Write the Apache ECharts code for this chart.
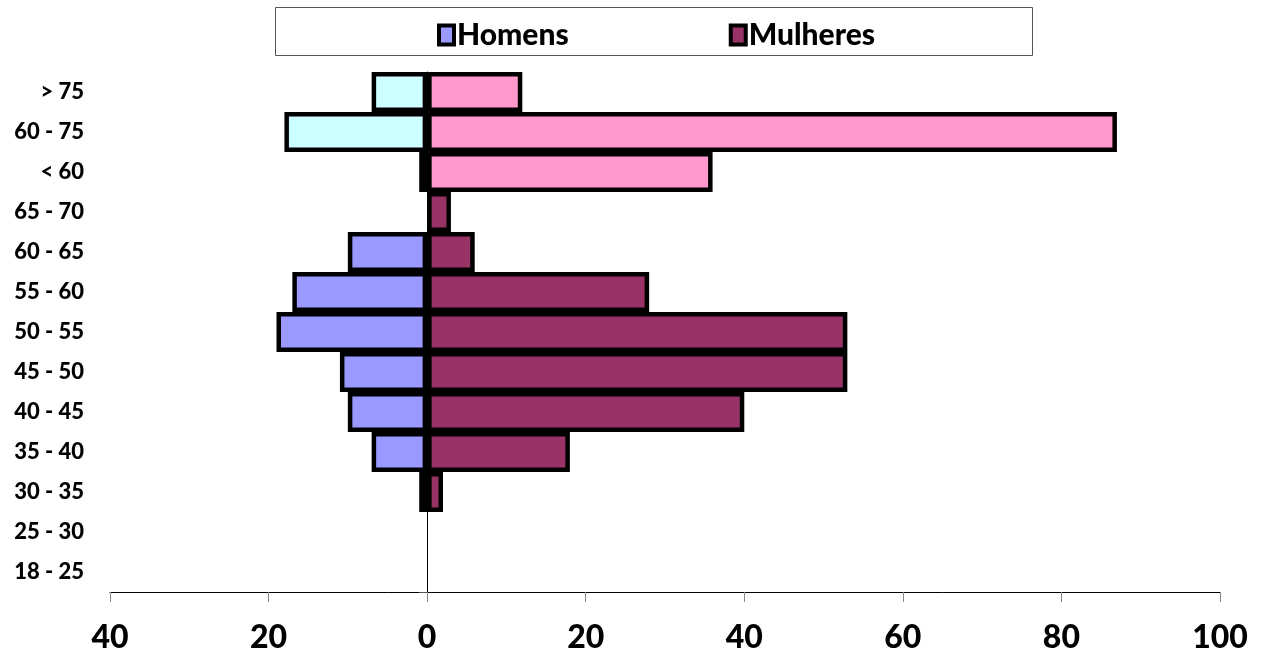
<!DOCTYPE html>
<html><head><meta charset="utf-8">
<script src="https://cdn.jsdelivr.net/npm/echarts@6/dist/echarts.min.js"></script>
<style>html,body{margin:0;padding:0;background:#fff}#c{width:1264px;height:654px}</style>
</head><body><div id="c"></div>
<script>
const categories = ['18 - 25','25 - 30','30 - 35','35 - 40','40 - 45','45 - 50','50 - 55','55 - 60','60 - 65','65 - 70','< 60','60 - 75','> 75'];
const homens   = [null, null, 1, 7, 10, 11, 19, 17, 10, null, 1, 18, 7];
const mulheres = [null, null, 2, 18, 40, 53, 53, 28, 6, 3, 36, 87, 12];
const highlightCats = ['< 60','60 - 75','> 75'];
const xTicks = [-40, -20, 0, 20, 40, 60, 80, 100];

const FONT = 'Lato';
const cH = '#9999FF', cM = '#993366', cH2 = '#CCFFFF', cM2 = '#FF99CC';

function mk(vals, sign, alt) {
  return vals.map((v, i) => {
    if (v === null) return '-';
    const val = sign * v;
    if (highlightCats.includes(categories[i])) return {value: val, itemStyle: {color: alt}};
    return val;
  });
}

const chart = echarts.init(document.getElementById('c'));
chart.setOption({
  animation: false,
  textStyle: {fontFamily: FONT},
  grid: {left: 110, right: 44, top: 72, bottom: 62, containLabel: false},
  graphic: [{type: 'rect', shape: {x: 275.5, y: 7.5, width: 757, height: 48}, style: {fill: '#fff', stroke: '#555', lineWidth: 1}, z: 0}],
  legend: {
    left: 432, top: 15, icon: 'rect', itemWidth: 15, itemHeight: 19, itemGap: 160,
    itemStyle: {borderColor: '#000', borderWidth: 4},
    textStyle: {fontFamily: FONT, fontSize: 30, fontWeight: 900, color: '#000', padding: [0,0,0,-2]},
    data: ['Homens', 'Mulheres']
  },
  xAxis: {
    type: 'value', min: -40, max: 100, interval: 20,
    axisLine: {show: true, onZero: false, lineStyle: {color: '#000', width: 1}},
    axisTick: {show: true, inside: false, length: 10, lineStyle: {color: '#888'}},
    splitLine: {show: false},
    axisLabel: {formatter: v => xTicks.includes(v) ? String(Math.abs(v)) : '', fontFamily: FONT, fontSize: 32, fontWeight: 900, color: '#000', margin: 30}
  },
  yAxis: [{
    type: 'category', data: categories,
    axisLine: {show: true, onZero: true, lineStyle: {color: '#000', width: 1}},
    axisTick: {show: true, length: 8, interval: (i) => i === 1, lineStyle: {color: '#555'}},
    axisLabel: {show: false}
  }, {
    type: 'category', data: categories, position: 'left', offset: 0,
    axisLine: {show: false}, axisTick: {show: false},
    axisLabel: {fontFamily: FONT, fontSize: 22, fontWeight: 900, color: '#000', margin: 26}
  }],
  series: [{
    name: 'Homens', type: 'bar', stack: 't', barCategoryGap: '0%', barGap: '0%',
    itemStyle: {color: cH, borderColor: '#000', borderWidth: 4.5},
    data: mk(homens, -1, cH2)
  }, {
    name: 'Mulheres', type: 'bar', stack: 't', barCategoryGap: '0%', barGap: '0%',
    itemStyle: {color: cM, borderColor: '#000', borderWidth: 4.5},
    data: mk(mulheres, 1, cM2)
  }]
});
</script></body></html>
